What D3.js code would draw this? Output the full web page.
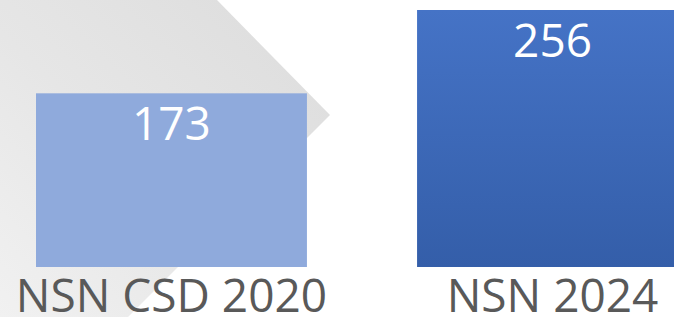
<!DOCTYPE html>
<html>
<head>
<meta charset="utf-8">
<script src="https://cdn.jsdelivr.net/npm/d3@7"></script>
<style>
  html, body { margin: 0; padding: 0; background: #fff; }
  svg { display: block; }
</style>
</head>
<body>
<div id="chart"></div>
<script>
let w = 674;
let h = 317;

// data
let categories = ["NSN CSD 2020", "NSN 2024"];
let values = [173, 256];
let barColors = ["light", "dark"];

let svg = d3.select("#chart")
  .append("svg")
  .attr("width", w)
  .attr("height", h);

let defs = svg.append("defs");

// gradient for the grey arrow in the back
let gGrey = defs.append("linearGradient")
  .attr("id", "greyGrad")
  .attr("x1", "0%").attr("y1", "100%")
  .attr("x2", "100%").attr("y2", "0%");
gGrey.append("stop").attr("offset", "0%").attr("stop-color", "#f1f1f1");
gGrey.append("stop").attr("offset", "45%").attr("stop-color", "#e6e6e6");
gGrey.append("stop").attr("offset", "100%").attr("stop-color", "#dcdcdc");

// gradient for the dark bar
let gBlue = defs.append("linearGradient")
  .attr("id", "darkGrad")
  .attr("x1", "0%").attr("y1", "0%")
  .attr("x2", "0%").attr("y2", "100%");
gBlue.append("stop").attr("offset", "0%").attr("stop-color", "#4573c6");
gBlue.append("stop").attr("offset", "100%").attr("stop-color", "#345ea9");

// background arrow shape
svg.append("polygon")
  .attr("points", [[0, 0], [217, 0], [330, 115], [128, 317], [0, 317]].map(p => p.join(",")).join(" "))
  .attr("fill", "url(#greyGrad)");

// scales
let xScale = d3.scaleBand()
  .domain(categories)
  .range([36, 688])
  .paddingInner(0.289)
  .paddingOuter(0);

let yScale = d3.scaleLinear()
  .domain([0, 256])
  .range([267, 10]);

let data = categories.map((c, i) => ({ cat: c, value: values[i], kind: barColors[i] }));

svg.selectAll(".bar").data(data).enter()
  .append("rect")
  .attr("class", "bar")
  .attr("x", d => xScale(d.cat))
  .attr("y", d => yScale(d.value))
  .attr("width", xScale.bandwidth())
  .attr("height", d => yScale(0) - yScale(d.value))
  .attr("fill", d => d.kind == "light" ? "#8faadc" : "url(#darkGrad)");

// value labels
svg.selectAll(".val").data(data).enter()
  .append("text")
  .attr("class", "val")
  .attr("x", d => xScale(d.cat) + xScale.bandwidth() / 2)
  .attr("y", d => yScale(d.value) + 47)
  .attr("text-anchor", "middle")
  .attr("font-family", "Open Sans")
  .attr("font-size", 46)
  .attr("fill", "#ffffff")
  .text(d => d.value);

// category labels
svg.selectAll(".cat").data(data).enter()
  .append("text")
  .attr("class", "cat")
  .attr("x", d => xScale(d.cat) + xScale.bandwidth() / 2)
  .attr("y", 312)
  .attr("text-anchor", "middle")
  .attr("font-family", "Open Sans")
  .attr("font-size", 46)
  .attr("fill", "#595959")
  .text(d => d.cat);
</script>
</body>
</html>
